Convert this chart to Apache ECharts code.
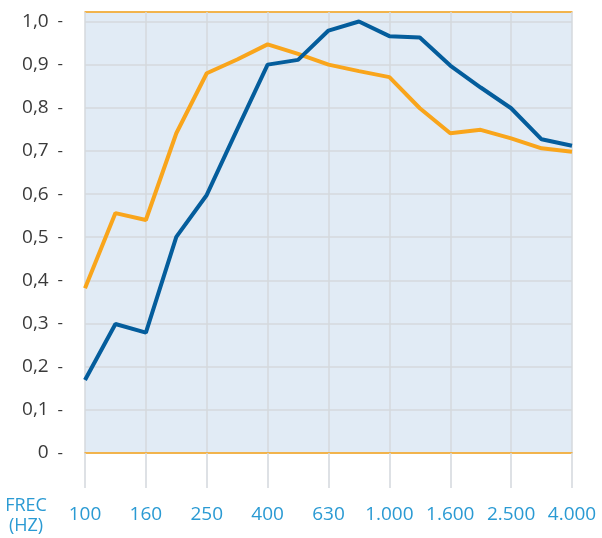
<!DOCTYPE html>
<html>
<head>
<meta charset="utf-8">
<script src="https://cdn.jsdelivr.net/npm/echarts@6/dist/echarts.min.js"></script>
<style>
html,body{margin:0;padding:0;background:#fff;}
#chart{width:602px;height:538px;}
</style>
</head>
<body>
<div id="chart"></div>
<script>
const categories = ['100','125','160','200','250','315','400','500','630','800','1.000','1.250','1.600','2.000','2.500','3.150','4.000'];
const blueValues = [0.169,0.299,0.279,0.501,0.598,0.75,0.90,0.911,0.979,1.0,0.966,0.963,0.898,0.847,0.799,0.727,0.712];
const orangeValues = [0.382,0.556,0.54,0.741,0.88,0.912,0.947,0.925,0.90,0.885,0.871,0.799,0.741,0.749,0.729,0.706,0.698];
const xAxisName = ['FREC','(HZ)'];

const chart = echarts.init(document.getElementById('chart'));
const labelBlue = '#2a9ad3';
const gridGrey = '#d4d8dd';
const orange = '#f9a51b';
const blue = '#045d9c';

chart.setOption({
  animation: false,
  backgroundColor: '#ffffff',
  grid: {left: 85, right: 30, top: 12, bottom: 85, show: true, backgroundColor: '#e1ebf5', borderWidth: 0},
  xAxis: [{
    type: 'category',
    data: categories,
    boundaryGap: false,
    axisLine: {show: true, lineStyle: {color: orange, width: 1.5}},
    axisTick: {show: true, interval: 1, length: 35, lineStyle: {color: gridGrey, width: 1.5}},
    axisLabel: {interval: 1, margin: 52, color: labelBlue, fontSize: 19, fontFamily: 'Open Sans'},
    splitLine: {show: true, interval: 1, lineStyle: {color: gridGrey, width: 1.5}},
    z: 3
  }, {
    type: 'category',
    data: categories,
    position: 'top',
    boundaryGap: false,
    axisLine: {show: true, lineStyle: {color: orange, width: 1.5}},
    axisTick: {show: false},
    axisLabel: {show: false},
    splitLine: {show: false}
  }],
  yAxis: {
    type: 'value',
    min: 0,
    max: 1.022,
    interval: 0.1,
    axisLine: {show: false},
    axisTick: {show: false},
    splitLine: {show: true, lineStyle: {color: gridGrey, width: 1.5}},
    axisLabel: {
      margin: 22,
      formatter: function (v) {
        if (v > 1.001) return '';
        const s = v === 0 ? '0' : v.toFixed(1).replace('.', ',');
        return '{v|' + s + '}{d|  -}';
      },
      rich: {
        v: {color: '#3a3a3a', fontSize: 19, fontFamily: 'Open Sans'},
        d: {color: '#3a3a3a', fontSize: 17, fontFamily: 'Open Sans'}
      }
    }
  },
  series: [{
    type: 'line',
    data: blueValues,
    symbol: 'none',
    lineStyle: {color: blue, width: 4},
    z: 4
  }, {
    type: 'line',
    data: orangeValues,
    symbol: 'none',
    lineStyle: {color: orange, width: 4},
    z: 3
  }],
  graphic: [{
    type: 'text',
    left: 4,
    top: 496,
    style: {
      text: xAxisName.join('\n'),
      fill: labelBlue,
      font: '18px "Open Sans"',
      textAlign: 'center',
      lineHeight: 20,
      width: 44
    }
  }]
});
</script>
</body>
</html>
